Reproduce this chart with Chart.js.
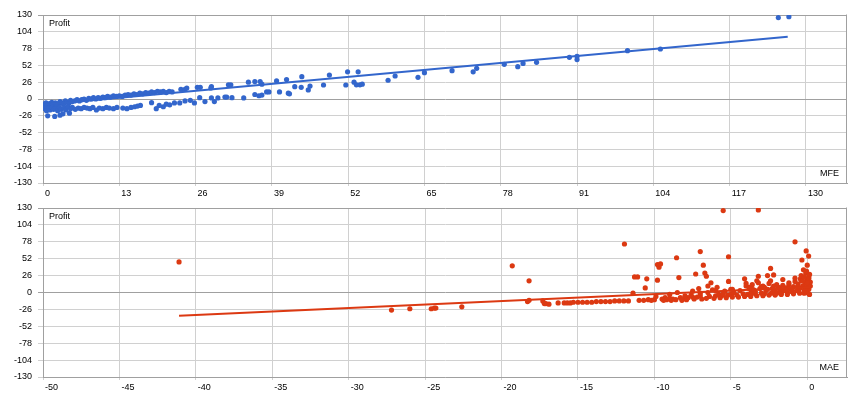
<!DOCTYPE html>
<html>
<head>
<meta charset="utf-8">
<script src="https://cdn.jsdelivr.net/npm/chart.js@4"></script>
<style>
  body { margin: 0; background: #fff; width: 860px; height: 400px; overflow: hidden; position: relative; }
  .caja { position: absolute; left: 0; width: 860px; }
</style>
</head>
<body>
<div class="caja" style="top:0;height:200px"><canvas id="graficoMFE"></canvas></div>
<div class="caja" style="top:195px;height:205px"><canvas id="graficoMAE"></canvas></div>
<script>
// Datos: MFE / MAE contra Profit

const profitTicks = [-130, -104, -78, -52, -26, 0, 26, 52, 78, 104, 130];
const mfeTicks = [0, 13, 26, 39, 52, 65, 78, 91, 104, 117, 130];
const maeTicks = [-50, -45, -40, -35, -30, -25, -20, -15, -10, -5, 0];

// Puntos MFE (eje x) y su profit (eje y)
const mfeX = [
  0.1, 0.3, 0.5, 0.7, 0.9, 1.1, 1.3, 1.5, 1.7, 1.9, 2.1, 2.3, 2.6, 2.9, 3.2, 3.5, 3.8, 4.1, 4.4, 4.7,
  5.0, 5.4, 5.8, 6.2, 6.6, 7.0, 7.4, 7.8, 8.2, 8.6, 9.0, 9.4, 9.8, 10.2, 10.6, 11.0, 11.5, 12.0, 12.5, 13.0,
  13.5, 14.0, 14.5, 15.0, 15.5, 16.0, 16.5, 17.0, 17.5, 18.0, 18.5, 19.0, 19.5, 20.0, 20.5, 21.0, 21.5, 22.0,
  23.5, 24.2, 24.5, 26.3, 26.8, 28.6, 28.7, 31.6, 32.0, 35.0, 36.1, 37.0, 37.3, 39.8, 41.5, 44.1, 48.8, 51.9,
  53.7, 58.8, 60.0, 63.9, 65.0, 69.7, 73.3, 73.9, 78.6, 80.9, 81.8, 84.1, 89.7, 91.0, 91.0, 99.6, 105.2,
  125.3, 127.1,
  0.3, 0.6, 0.8, 1.0, 1.2, 1.5, 1.8, 2.0, 2.2, 2.5, 2.8, 2.9, 3.1, 3.4, 3.6, 3.9, 4.2, 4.5, 4.7, 5.0,
  5.5, 6.0, 6.5, 7.0, 7.5, 8.0, 8.5, 9.1, 9.6, 10.2, 10.8, 11.3, 12.0, 12.6, 13.6, 14.3, 15.0, 15.6, 16.1,
  16.6, 18.5, 19.3, 19.8, 20.5, 21.0, 21.6, 22.4, 23.3, 24.2, 25.1, 25.8, 26.7, 27.6, 28.7, 29.2, 29.8,
  31.0, 31.3, 32.2, 34.2, 36.1, 36.8, 37.3, 38.1, 38.5, 40.3, 41.8, 42.0, 42.9, 44.0, 45.2, 45.5, 47.8,
  51.6, 53.0, 53.4, 54.0, 54.4
];
const mfeProfit = [
  -8, -11, -6, -9, -12, -7, -10, -5, -8, -11, -6, -9, -7, -4, -6, -8, -3, -5, -7, -2,
  -4, -3, -1, -3, -1, 0, -2, 1, 0, 2, 0, 2, 1, 3, 2, 4, 3, 5, 4, 5,
  4, 6, 7, 6, 8, 7, 9, 8, 10, 9, 11, 10, 12, 11, 12, 10, 12, 11,
  15, 15, 17, 18, 18, 17, 19, 22, 22, 26, 27, 27, 23, 28, 30, 34.5, 37, 42,
  42, 29, 35.6, 33.6, 40.7, 43.8, 42, 47.5, 53.7, 50, 55, 56.8, 64.5, 66, 61, 74.8, 77.4,
  126, 127.4,
  -15, -18, -26, -14, -17, -13, -16, -27, -15, -18, -13, -25, -16, -23, -14, -17, -12, -22, -15, -13,
  -16, -14, -15, -13, -14, -15, -13, -17, -14, -15, -13, -14, -15, -13, -14, -15, -13, -12, -11,
  -10, -5.7, -15, -10, -12, -8, -9, -6, -6, -3, -2, -6, 2, -4, 1.6, -4, 1.6,
  3, 3, 2, 1.6, 7, 5, 6, 11, 11, 11, 9, 8, 19, 18, 14, 20, 21.7,
  21.7, 26, 22, 22, 23
];

// Línea de tendencia MFE
const mfeTrendX = [0, 126.9];
const mfeTrendY = [-9, 96.4];

// Puntos MAE (eje x) y su profit (eje y)
const maeX = [
  -41.1, -27.2, -26.0, -24.6, -24.4, -24.3, -22.6, -19.3, -18.2, -18.3, -18.2, -17.3, -17.2, -17.1, -16.9,
  -16.3, -15.9, -15.7, -15.5, -15.3, -15.0, -14.7, -14.4, -14.1, -13.8, -13.5, -13.2, -12.9, -12.6, -12.3,
  -12.0, -11.96, -11.7, -11.4, -11.3, -11.1, -11.0, -10.7, -10.6, -10.5, -10.4, -10.2, -10.0, -9.9, -9.8,
  -9.8, -9.7, -9.6, -9.5, -9.3, -9.2, -9.0, -8.8, -8.55, -8.4, -8.3, -8.0, -7.8, -7.6, -7.5, -7.3, -7.2,
  -7.1, -7.0, -7.0, -6.8, -6.7, -6.6, -6.5, -6.4, -6.3, -6.2, -6.0, -5.9, -5.8, -5.6, -5.5, -5.4, -5.2,
  -5.15, -5.15, -5.0, -4.9, -4.8, -4.6, -4.4, -4.2, -4.1, -4.0, -3.9, -3.8, -3.7, -3.6, -3.5, -3.4, -3.3,
  -3.2, -3.2, -3.1, -3.0, -2.9, -2.8, -2.7, -2.6, -2.5, -2.4, -2.35, -2.3, -2.2, -2.1, -2.0, -1.9, -1.8,
  -1.7, -1.6, -1.5, -1.4, -1.3, -1.2, -1.1, -1.0, -0.9, -0.8, -0.8, -0.7, -0.6, -0.5, -0.45, -0.4, -0.35,
  -0.3, -0.25, -0.2, -0.15, -0.1, -0.07, -0.05, 0, 0, 0, 0.05, 0.09, 0.1, 0.1, 0.15, 0.2, 0.2,
  -9.4, -8.9, -8.6, -8.2, -7.9, -7.4, -6.9, -6.6, -6.1, -5.7, -5.3, -4.9, -4.5, -4.1, -3.7, -3.3, -2.9,
  -2.5, -2.1, -1.7, -1.3, -0.9, -0.5, -0.2, 0.1,
  -9.0, -8.5, -8.0, -7.5, -7.0, -6.5, -6.0, -5.5, -5.0,
  -4.0, -3.6, -3.2, -2.8, -2.4, -2.0, -1.6, -1.2, -0.8, -0.4, 0, 0.1, -0.1, -0.3, -0.6, -1.0, -1.4,
  -1.8, -2.2, -2.6, -3.0, -3.4, -3.8, -0.2, 0.15, -0.05
];
const maeProfit = [
  47, -27, -25, -25, -24, -24, -22, 41, 18, -14, -12, -13, -17, -17, -18,
  -16, -16, -16, -16, -15, -15, -15, -15, -15, -14, -14, -14, -14, -13, -13,
  -13, 74.6, -13, -1, 24, 24, -12, -12, 7, 21, -11, -12, -11, -6, 43,
  19, 39, 44, -10, -8, -11, -9, -10, 53.5, 23, -8, -9, -8, -4, -7, 28.5, -7,
  6, 63, -5, 42, 30, 25, 10, -6, 15, 4, -5, 8, -3, -5, 126, 2, -4,
  55, 17, -3, 5, 0, -4, 3, -2, 21, 14, -3, 8, -1, 12, 4, -2, 18,
  127, 25, 6, -1, 10, -2, 3, 26, 14, 37, -1, 6, 27, 2, -1, 8, 4,
  -1, 11, 3, 7, 0, 12, 5, 1, 9, 78, 17, 3, 13, 6, 21, 26, 50,
  10, 35, 4, 15, 30, 64, 8, 42, 20, 0, 12, 56, 25, 5, -3, 10, 16,
  -12, -12, -11, -12, -11, -10, -10, -9, -9, -8, -8, -7, -7, -6, -6, -5, -5,
  -4, -4, -3, -3, -2, -1, -1, -2,
  -3, 0, -5, 2, -1, 0, 3, -2, 5,
  10, 5, 15, 8, 18, 12, 20, 15, 22, 18, 15, 22, 3, 18, 9, 6, 4,
  7, 10, 5, 9, 2, 6, 24, 28, 33
];

// Línea de tendencia MAE
const maeTrendX = [-41.1, 0.2];
const maeTrendY = [-35.7, 8.5];

const fuente = { family: '"Liberation Sans", Arial, sans-serif', size: 9 };

// Marco derecho y textos "Profit" / "MFE" dentro del área
const marcoYTitulos = {
  id: 'marcoYTitulos',
  beforeDatasetsDraw(chart, args, opts) {
    const { ctx, chartArea: a } = chart;
    ctx.save();
    ctx.strokeStyle = '#a0a0a0';
    ctx.lineWidth = 1;
    ctx.beginPath();
    const xr = Math.round(a.right) - 0.5;
    ctx.moveTo(xr, Math.round(a.top) - 0.5);
    ctx.lineTo(xr, Math.round(a.bottom) + 0.5);
    ctx.stroke();
    ctx.fillStyle = '#000';
    ctx.font = '9px "Liberation Sans", Arial, sans-serif';
    ctx.textBaseline = 'middle';
    ctx.textAlign = 'left';
    ctx.fillText('Profit', a.left + 6, a.top + 9);
    ctx.textAlign = 'right';
    ctx.fillText(opts.tituloX, a.right - 8, a.bottom - 9);
    ctx.restore();
  }
};

function crearGrafico(id, xs, ys, tx, ty, color, xMin, xMax, xTicks, tituloX) {
  const puntos = xs.map((x, i) => ({ x: x, y: ys[i] }));
  const tendencia = tx.map((x, i) => ({ x: x, y: ty[i] }));
  return new Chart(document.getElementById(id), {
    type: 'scatter',
    data: {
      datasets: [
        {
          type: 'line',
          data: tendencia,
          borderColor: color,
          borderWidth: 2,
          pointRadius: 0,
          fill: false
        },
        {
          data: puntos,
          backgroundColor: color,
          borderWidth: 0,
          pointRadius: 2.6
        }
      ]
    },
    options: {
      responsive: true,
      maintainAspectRatio: false,
      animation: false,
      layout: { padding: { top: id === 'graficoMFE' ? 15 : 13, right: 13, left: 0, bottom: id === 'graficoMFE' ? 0 : 6 } },
      plugins: {
        legend: { display: false },
        tooltip: { enabled: false },
        marcoYTitulos: { tituloX: tituloX }
      },
      scales: {
        x: {
          type: 'linear',
          min: xMin,
          max: xMax,
          afterBuildTicks: s => { s.ticks = xTicks.map(v => ({ value: v })); },
          afterFit: s => { s.height = 17; },
          grid: { color: '#d0d0d0', tickLength: 3 },
          border: { color: '#a0a0a0' },
          ticks: {
            align: 'start', padding: 2, labelOffset: 2, color: '#000', font: fuente,
            autoSkip: false, maxRotation: 0, callback: v => String(v)
          }
        },
        y: {
          min: -130,
          max: 130,
          afterBuildTicks: s => { s.ticks = profitTicks.map(v => ({ value: v })); },
          afterFit: s => { s.width = 43; },
          grid: {
            color: c => (c.tick && (c.tick.value === 0 || c.tick.value === 130)) ? '#a0a0a0' : '#d0d0d0',
            tickLength: 5
          },
          border: { color: '#a0a0a0' },
          ticks: { padding: 6, color: '#000', font: fuente, callback: v => String(v) }
        }
      }
    },
    plugins: [marcoYTitulos]
  });
}

crearGrafico('graficoMFE', mfeX, mfeProfit, mfeTrendX, mfeTrendY, '#3366cc', 0, 137, mfeTicks, 'MFE');
crearGrafico('graficoMAE', maeX, maeProfit, maeTrendX, maeTrendY, '#dc3912', -50, 2.6, maeTicks, 'MAE');
</script>
</body>
</html>
